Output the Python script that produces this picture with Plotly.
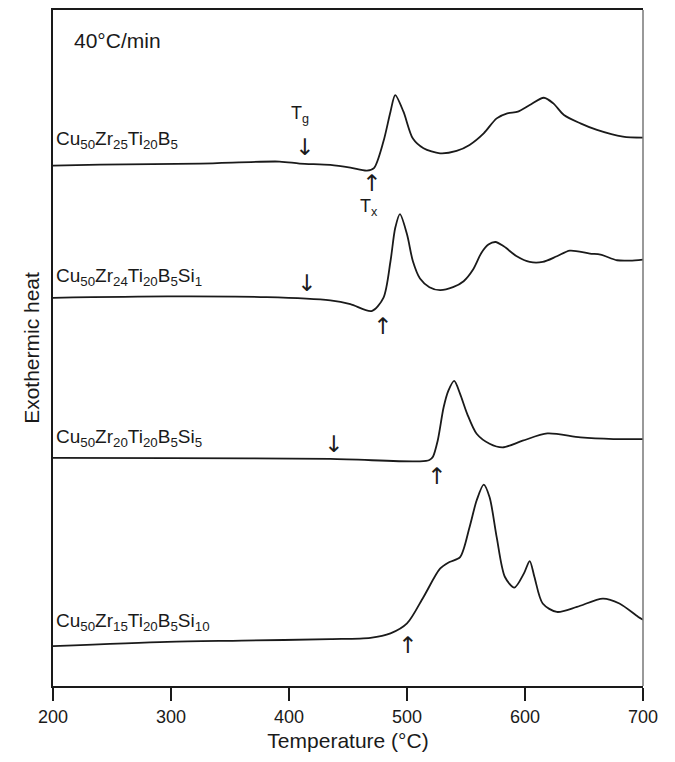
import plotly.graph_objects as go

# Temperature (°C) and exothermic heat signal (arbitrary units)
T1 = [200, 240, 325, 392, 409, 435, 452, 466, 472, 480, 486, 490, 497, 505, 514, 528, 542, 553, 565, 576, 585, 594, 604, 616, 624, 633, 647, 661, 683, 700]
H1 = [522, 523, 524, 526, 524, 522.7, 520, 517, 519.5, 546, 576, 592.7, 576, 549, 539.3, 534.3, 536.7, 542.7, 554.3, 569.3, 574.3, 576, 582.7, 590, 584.3, 572.7, 564.3, 557.7, 551, 550]

T2 = [200, 297, 381, 435, 452, 470, 480, 486, 490, 494, 500, 505, 511, 519, 528, 539, 548, 556, 563, 569, 575, 582, 593, 604, 615, 627, 638, 655, 664, 678, 689, 700]
H2 = [389.3, 390.7, 390, 386.7, 383, 376, 389.3, 426, 459.3, 473.3, 453, 426, 408.7, 400, 397, 400, 406, 417.7, 434.3, 442.7, 445.3, 441, 431, 425.3, 425.3, 431, 436.7, 433.7, 432.7, 427, 426.7, 427.7]

T3 = [200, 300, 435, 511, 519, 522, 526, 531, 535, 540, 545, 551, 559, 570, 581, 598, 619, 647, 675, 700]
H3 = [228.7, 228.5, 227.7, 225.3, 226.7, 230, 246, 279.3, 296, 306, 293, 273, 253, 243, 239.3, 246, 253.3, 249.3, 247.7, 247.7]

T4 = [200, 297, 360, 435, 469, 486, 500, 514, 528, 536, 545, 553, 559, 565, 570, 576, 583, 591, 599, 604, 608, 615, 627, 644, 666, 680, 696, 700]
H4 = [40, 44.3, 45.5, 47, 48.3, 52.7, 62.7, 89.3, 117.7, 124.3, 129.3, 159.3, 186, 202, 189.3, 149.3, 109.3, 98.7, 112.7, 125.3, 109.3, 82.7, 74.3, 79.3, 87.7, 82.7, 69.3, 66.5]

labels = ["Cu<sub>50</sub>Zr<sub>25</sub>Ti<sub>20</sub>B<sub>5</sub>",
          "Cu<sub>50</sub>Zr<sub>24</sub>Ti<sub>20</sub>B<sub>5</sub>Si<sub>1</sub>",
          "Cu<sub>50</sub>Zr<sub>20</sub>Ti<sub>20</sub>B<sub>5</sub>Si<sub>5</sub>",
          "Cu<sub>50</sub>Zr<sub>15</sub>Ti<sub>20</sub>B<sub>5</sub>Si<sub>10</sub>"]
label_y = [548, 410, 249, 64]

# Tg (down arrows) and Tx (up arrows) markers
tg_T = [413, 415, 438]
tg_H = [541, 404, 243]
tx_T = [470, 479, 525, 500]
tx_H = [504, 361, 211, 41]

xticks = [200, 300, 400, 500, 600, 700]

FONT = "Liberation Sans, Arial, sans-serif"
INK = "#1a1a1a"

fig = go.Figure()
for T, H in [(T1, H1), (T2, H2), (T3, H3), (T4, H4)]:
    fig.add_trace(go.Scatter(x=T, y=H, mode="lines",
                             line=dict(color=INK, width=1.8, shape="spline", smoothing=0.8),
                             showlegend=False, hoverinfo="skip"))

ann = []
for lab, yy in zip(labels, label_y):
    ann.append(dict(x=201, y=yy, text=lab, showarrow=False, xanchor="left", yanchor="middle",
                    font=dict(size=19, color=INK, family=FONT)))
for t, h in zip(tg_T, tg_H):
    ann.append(dict(x=t, y=h, text="↓", showarrow=False, font=dict(size=23, color=INK, family="DejaVu Sans")))
for t, h in zip(tx_T, tx_H):
    ann.append(dict(x=t, y=h, text="↑", showarrow=False, font=dict(size=23, color=INK, family="DejaVu Sans")))
ann.append(dict(x=409, y=573, text="T<sub>g</sub>", showarrow=False, font=dict(size=18, color=INK, family=FONT)))
ann.append(dict(x=468, y=480, text="T<sub>x</sub>", showarrow=False, font=dict(size=18, color=INK, family=FONT)))
ann.append(dict(x=216, y=647, text="40°C/min", showarrow=False, xanchor="left", yanchor="middle",
                font=dict(size=21, color=INK, family=FONT)))

fig.update_layout(
    width=667, height=754,
    margin=dict(l=45, r=32, t=0, b=76),
    paper_bgcolor="white", plot_bgcolor="white",
    annotations=ann,
    xaxis=dict(range=[200, 700], tickvals=xticks, ticktext=[str(v) for v in xticks],
               ticks="outside", ticklen=13, tickwidth=1.5, tickcolor=INK,
               showline=True, linecolor=INK, linewidth=2, mirror=True,
               showgrid=False, zeroline=False,
               tickfont=dict(size=18, color=INK, family=FONT),
               title=dict(text="Temperature (°C)", font=dict(size=21, color=INK, family=FONT), standoff=8)),
    yaxis=dict(range=[0, 678], showticklabels=False, ticks="",
               showline=True, linecolor=INK, linewidth=2, mirror=False,
               showgrid=False, zeroline=False,
               title=dict(text="Exothermic heat", font=dict(size=21, color=INK, family=FONT), standoff=6)),
    shapes=[dict(type="line", xref="paper", yref="paper", x0=1, x1=1, y0=0, y1=1,
                 line=dict(color="#777777", width=1.5))],
)

fig.write_html("out.html")
